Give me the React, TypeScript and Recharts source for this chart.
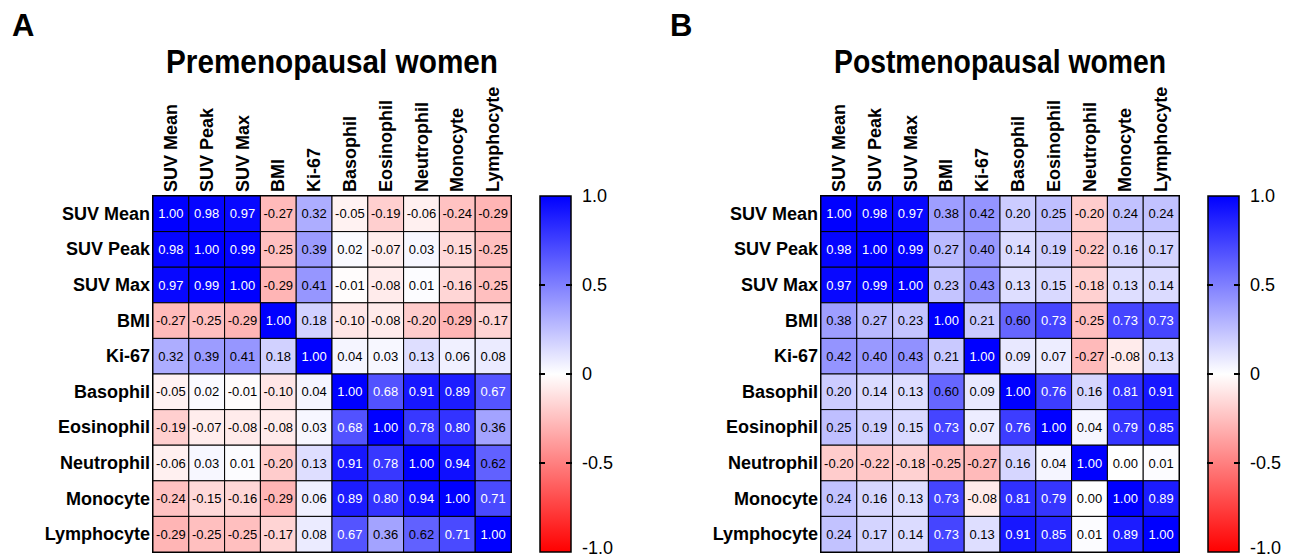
import React from 'react';
import { ScatterChart, Scatter, XAxis, YAxis, Customized } from 'recharts';

const FONT = '"Liberation Sans", Arial, sans-serif';

const VARIABLES = ['SUV Mean', 'SUV Peak', 'SUV Max', 'BMI', 'Ki-67', 'Basophil', 'Eosinophil', 'Neutrophil', 'Monocyte', 'Lymphocyte'];
const CBAR_TICKS = [1, 0.5, 0, -0.5, -1];

// Premenopausal correlation matrix, one row per variable
const PRE_SUV_MEAN = [1.0, 0.98, 0.97, -0.27, 0.32, -0.05, -0.19, -0.06, -0.24, -0.29];
const PRE_SUV_PEAK = [0.98, 1.0, 0.99, -0.25, 0.39, 0.02, -0.07, 0.03, -0.15, -0.25];
const PRE_SUV_MAX = [0.97, 0.99, 1.0, -0.29, 0.41, -0.01, -0.08, 0.01, -0.16, -0.25];
const PRE_BMI = [-0.27, -0.25, -0.29, 1.0, 0.18, -0.1, -0.08, -0.2, -0.29, -0.17];
const PRE_KI67 = [0.32, 0.39, 0.41, 0.18, 1.0, 0.04, 0.03, 0.13, 0.06, 0.08];
const PRE_BASOPHIL = [-0.05, 0.02, -0.01, -0.1, 0.04, 1.0, 0.68, 0.91, 0.89, 0.67];
const PRE_EOSINOPHIL = [-0.19, -0.07, -0.08, -0.08, 0.03, 0.68, 1.0, 0.78, 0.8, 0.36];
const PRE_NEUTROPHIL = [-0.06, 0.03, 0.01, -0.2, 0.13, 0.91, 0.78, 1.0, 0.94, 0.62];
const PRE_MONOCYTE = [-0.24, -0.15, -0.16, -0.29, 0.06, 0.89, 0.8, 0.94, 1.0, 0.71];
const PRE_LYMPHOCYTE = [-0.29, -0.25, -0.25, -0.17, 0.08, 0.67, 0.36, 0.62, 0.71, 1.0];

// Postmenopausal correlation matrix
const POST_SUV_MEAN = [1.0, 0.98, 0.97, 0.38, 0.42, 0.2, 0.25, -0.2, 0.24, 0.24];
const POST_SUV_PEAK = [0.98, 1.0, 0.99, 0.27, 0.4, 0.14, 0.19, -0.22, 0.16, 0.17];
const POST_SUV_MAX = [0.97, 0.99, 1.0, 0.23, 0.43, 0.13, 0.15, -0.18, 0.13, 0.14];
const POST_BMI = [0.38, 0.27, 0.23, 1.0, 0.21, 0.6, 0.73, -0.25, 0.73, 0.73];
const POST_KI67 = [0.42, 0.4, 0.43, 0.21, 1.0, 0.09, 0.07, -0.27, -0.08, 0.13];
const POST_BASOPHIL = [0.2, 0.14, 0.13, 0.6, 0.09, 1.0, 0.76, 0.16, 0.81, 0.91];
const POST_EOSINOPHIL = [0.25, 0.19, 0.15, 0.73, 0.07, 0.76, 1.0, 0.04, 0.79, 0.85];
const POST_NEUTROPHIL = [-0.2, -0.22, -0.18, -0.25, -0.27, 0.16, 0.04, 1.0, 0.0, 0.01];
const POST_MONOCYTE = [0.24, 0.16, 0.13, 0.73, -0.08, 0.81, 0.79, 0.0, 1.0, 0.89];
const POST_LYMPHOCYTE = [0.24, 0.17, 0.14, 0.73, 0.13, 0.91, 0.85, 0.01, 0.89, 1.0];

const PRE_ROWS = [PRE_SUV_MEAN, PRE_SUV_PEAK, PRE_SUV_MAX, PRE_BMI, PRE_KI67, PRE_BASOPHIL, PRE_EOSINOPHIL, PRE_NEUTROPHIL, PRE_MONOCYTE, PRE_LYMPHOCYTE];
const POST_ROWS = [POST_SUV_MEAN, POST_SUV_PEAK, POST_SUV_MAX, POST_BMI, POST_KI67, POST_BASOPHIL, POST_EOSINOPHIL, POST_NEUTROPHIL, POST_MONOCYTE, POST_LYMPHOCYTE];

// layout
const CHART_H = 560;
const PLOT_LEFT = 153;
const PLOT_TOP = 196;
const PLOT_W = 358;
const PLOT_H = 356;
const CELL_W = PLOT_W / 10;
const CELL_H = PLOT_H / 10;
const X_AXIS_H = 130;
const Y_AXIS_W = 150;
const CB_AXIS_W = 100;
const CBAR_GAP = 29;
const CBAR_W = 31;

const toCells = (rows: number[][]) =>
  rows.flatMap((vals, r) => vals.map((value, c) => ({ row: VARIABLES[r], col: VARIABLES[c], value })));

// colorbar levels, bound to the colorbar axis so it has a domain to draw
const cbarPoints = CBAR_TICKS.map((level) => ({ col: VARIABLES[0], level }));

// blue (+1) -> white (0) -> red (-1)
const colorFor = (v: number) => {
  const t = Math.min(1, Math.abs(v));
  const k = Math.round(255 * (1 - t));
  return v >= 0 ? `rgb(${k},${k},255)` : `rgb(255,${k},${k})`;
};

const CellShape = (props: any) => {
  const { cx, cy, payload } = props;
  if (cx == null || cy == null) return null;
  const v = payload.value as number;
  return (
    <g>
      <rect x={cx - CELL_W / 2} y={cy - CELL_H / 2} width={CELL_W} height={CELL_H} fill={colorFor(v)} stroke="#000" strokeWidth={1} />
      <text x={cx} y={cy} textAnchor="middle" dominantBaseline="central" fontSize={13} fontFamily={FONT} fill={v > 0.65 ? '#fff' : '#000'}>
        {v.toFixed(2)}
      </text>
    </g>
  );
};

const NoShape = () => <g />;

const ColumnTick = ({ x, y, payload }: any) => (
  <text transform={`translate(${x},${y}) rotate(-90)`} textAnchor="start" dominantBaseline="central" fontSize={18} fontWeight="bold" fontFamily={FONT} fill="#000">
    {payload.value}
  </text>
);

const RowTick = ({ x, y, payload }: any) => (
  <text x={x} y={y} textAnchor="end" dominantBaseline="central" fontSize={18} fontWeight="bold" fontFamily={FONT} fill="#000">
    {payload.value}
  </text>
);

// colorbar: the top tick also lays down the gradient bar so later tick marks sit on top of it
const makeColorbarTick = (gradId: string) => ({ x, y, payload, index }: any) => {
  const left = x + CBAR_GAP;
  const right = left + CBAR_W;
  const v = payload.value as number;
  const inner = Math.abs(v) < 1;
  const labelY = v === -1 ? y - 4 : y;
  return (
    <g>
      {index === 0 && (
        <>
          <defs>
            <linearGradient id={gradId} x1="0" y1="0" x2="0" y2="1">
              <stop offset="0%" stopColor="#0000ff" />
              <stop offset="50%" stopColor="#ffffff" />
              <stop offset="100%" stopColor="#ff0000" />
            </linearGradient>
          </defs>
          <rect x={left} y={y} width={CBAR_W} height={PLOT_H} fill={`url(#${gradId})`} stroke="#000" strokeWidth={1.5} />
        </>
      )}
      {inner && <line x1={left - 1} x2={left + 5} y1={y} y2={y} stroke="#000" strokeWidth={2} />}
      {inner && <line x1={right - 5} x2={right + 1} y1={y} y2={y} stroke="#000" strokeWidth={2} />}
      <text x={right + 11} y={labelY} dominantBaseline="central" fontSize={18} fontFamily={FONT} fill="#000">
        {v === 0 ? '0' : v.toFixed(1)}
      </text>
    </g>
  );
};

const Titles = ({ letter, letterX, title }: any) => (
  <g>
    <text x={letterX} y={36} fontSize={31} fontWeight="bold" fontFamily={FONT} fill="#000">{letter}</text>
    <text
      x={PLOT_LEFT + PLOT_W / 2}
      y={73}
      textAnchor="middle"
      fontSize={33}
      fontWeight="bold"
      fontFamily={FONT}
      fill="#000"
      textLength={332}
      lengthAdjust="spacingAndGlyphs"
    >
      {title}
    </text>
  </g>
);

const Frame = () => (
  <rect x={PLOT_LEFT} y={PLOT_TOP} width={PLOT_W} height={PLOT_H} fill="none" stroke="#000" strokeWidth={2} />
);

function CorrelationPanel({ rows, width, id, letter, letterX, title }: any) {
  const cells = toCells(rows);
  const ColorbarTick = makeColorbarTick(id);
  return (
    <ScatterChart
      width={width}
      height={CHART_H}
      margin={{
        top: PLOT_TOP - X_AXIS_H,
        left: PLOT_LEFT - Y_AXIS_W,
        right: width - PLOT_LEFT - PLOT_W - CB_AXIS_W,
        bottom: CHART_H - PLOT_TOP - PLOT_H,
      }}
    >
      <Customized component={<Titles letter={letter} letterX={letterX} title={title} />} />
      <XAxis
        xAxisId={0}
        dataKey="col"
        type="category"
        orientation="top"
        allowDuplicatedCategory={false}
        height={X_AXIS_H}
        axisLine={false}
        tickLine={false}
        tickSize={0}
        tickMargin={4}
        interval={0}
        tick={<ColumnTick />}
      />
      <YAxis
        yAxisId={0}
        dataKey="row"
        type="category"
        allowDuplicatedCategory={false}
        reversed
        width={Y_AXIS_W}
        axisLine={false}
        tickLine={false}
        tickSize={0}
        tickMargin={3}
        interval={0}
        tick={<RowTick />}
      />
      <YAxis
        yAxisId="cbar"
        dataKey="level"
        orientation="right"
        type="number"
        domain={[-1, 1]}
        ticks={CBAR_TICKS}
        width={CB_AXIS_W}
        axisLine={false}
        tickLine={false}
        tickSize={0}
        tickMargin={0}
        interval={0}
        tick={ColorbarTick}
      />
      <Scatter data={cells} xAxisId={0} yAxisId={0} shape={<CellShape />} isAnimationActive={false} />
      <Scatter data={cbarPoints} xAxisId={0} yAxisId="cbar" shape={<NoShape />} isAnimationActive={false} />
      <Customized component={<Frame />} />
    </ScatterChart>
  );
}

export default function App() {
  return (
    <div style={{ position: 'absolute', left: 0, top: 0, width: 1297, height: 560, background: '#fff', overflow: 'hidden', fontFamily: FONT }}>
      <div style={{ position: 'absolute', left: 0, top: 0 }}>
        <CorrelationPanel rows={PRE_ROWS} width={668} id="gradA" letter="A" letterX={12} title="Premenopausal women" />
      </div>
      <div style={{ position: 'absolute', left: 668, top: 0 }}>
        <CorrelationPanel rows={POST_ROWS} width={629} id="gradB" letter="B" letterX={2} title="Postmenopausal women" />
      </div>
    </div>
  );
}
